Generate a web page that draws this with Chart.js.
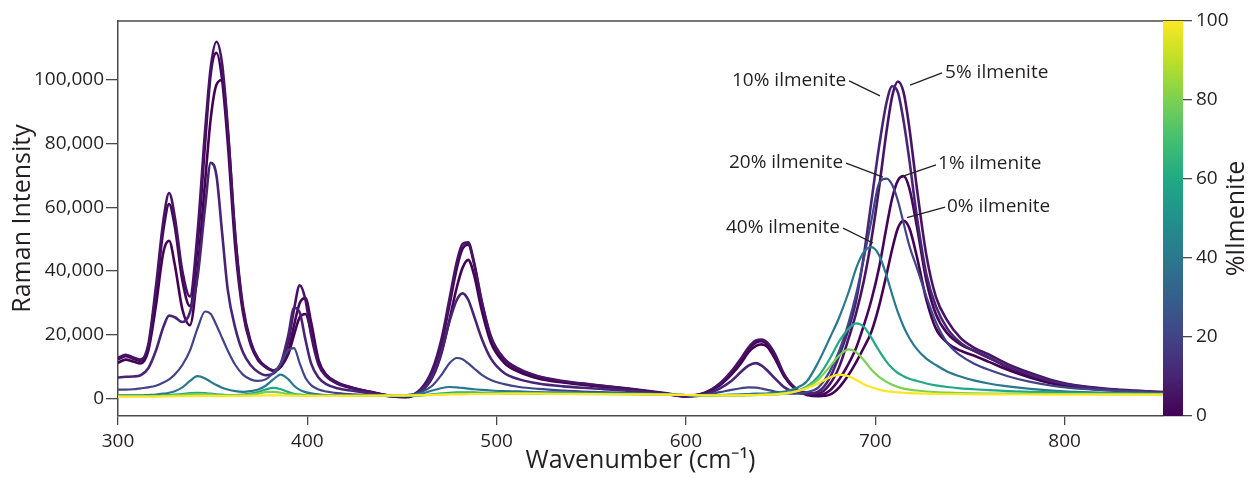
<!DOCTYPE html>
<html>
<head>
<meta charset="utf-8">
<script src="https://cdn.jsdelivr.net/npm/chart.js@4.4.1/dist/chart.umd.min.js"></script>
<style>
  html, body { margin: 0; padding: 0; background: #fff; }
</style>
</head>
<body>
<canvas id="ramanChart" width="1249" height="478"></canvas>
<script>
// Wavenumber grid (cm-1) shared by every spectrum
const wavenumbers = [
    300, 304, 308, 312, 316, 320, 324, 327, 330, 334,
    338, 342, 346, 349, 352, 355, 358, 362, 366, 370,
    374, 378, 382, 386, 390, 393, 396, 399, 402, 406,
    410, 416, 424, 434, 444, 452, 460, 466, 471, 475,
    479, 482, 485, 488, 492, 497, 504, 512, 522, 535,
    550, 570, 590, 600, 610, 618, 624, 629, 633, 637,
    640, 643, 647, 652, 658, 664, 670, 676, 681, 686,
    690, 694, 698, 702, 706, 709, 712, 715, 718, 722,
    727, 732, 738, 745, 752, 760, 770, 782, 795, 810,
    830, 852
];

// Raman intensity, one array per % ilmenite
const ilm0 = [
    11200, 12200, 11600, 11000, 15000, 29000, 46000, 49500, 42000, 28000,
    23000, 40000, 68000, 88000, 98500, 100000, 84000, 51000, 29000, 18000,
    12500, 10000, 8800, 10000, 14000, 20000, 25500, 26500, 21000, 11000,
    7000, 4600, 3200, 1900, 700, 400, 2200, 6500, 14500, 24500,
    35000, 41000, 43500, 39000, 28000, 17500, 11200, 8300, 6300, 5000,
    4000, 2900, 1400, 600, 1600, 4200, 7500, 11000, 14500, 16500,
    17000, 16200, 12500, 6800, 2800, 1100, 700, 1200, 3500, 7500,
    11500, 16000, 21000, 29000, 39000, 47000, 53500, 55800, 53500, 44500,
    31000, 22000, 17500, 15000, 13500, 11500, 9000, 6500, 4500, 3200,
    2400, 1900
];
const ilm1 = [
    12300, 13300, 12500, 11800, 16000, 33000, 53000, 61000, 54000, 37000,
    29000, 48000, 80000, 102000, 108500, 100000, 80000, 47000, 27000, 17000,
    12000, 9800, 8700, 10000, 15000, 23000, 30000, 31500, 24000, 12000,
    7500, 5000, 3400, 2000, 800, 500, 2800, 8000, 17500, 29000,
    41000, 47000, 48300, 42500, 30500, 19000, 12200, 9000, 6800, 5300,
    4300, 3000, 1500, 700, 1700, 4500, 8000, 12000, 15500, 17500,
    18000, 17000, 13000, 7200, 3000, 1400, 1000, 2500, 6000, 11000,
    16000, 23000, 31000, 41000, 54000, 63000, 68500, 69800, 66000, 54000,
    37000, 26500, 20500, 17000, 15000, 12800, 9800, 7200, 5000, 3500,
    2500, 1900
];
const ilm5 = [
    12800, 13700, 12900, 12200, 17000, 35000, 56000, 64500, 57000, 40000,
    32000, 52000, 84000, 104000, 112000, 105000, 85000, 50000, 28000, 17500,
    12500, 10000, 8800, 10500, 18000, 28000, 35500, 31000, 20000, 10500,
    7000, 4800, 3300, 2000, 900, 600, 3000, 9000, 19000, 31000,
    43000, 48500, 49000, 43000, 31000, 19500, 12500, 9300, 7000, 5500,
    4400, 3100, 1600, 800, 1800, 4800, 8500, 12500, 16000, 18200,
    18500, 17500, 14000, 7500, 3200, 1800, 1600, 4500, 10000, 19000,
    27000, 37000, 50000, 66000, 84000, 95000, 99500, 96000, 85000, 66000,
    45000, 32000, 24500, 19000, 16000, 13800, 10800, 8000, 5500, 3800,
    2700, 2000
];
const ilm10 = [
    6600, 6800, 6900, 7300, 9500, 15000, 22500, 26000, 25500, 24000,
    27000, 38000, 60000, 74000, 70000, 52000, 34000, 22000, 14500, 10500,
    8300, 7300, 7800, 11000, 20000, 28500, 27000, 18500, 11000, 6500,
    4500, 3200, 2400, 1500, 700, 600, 2500, 7000, 15000, 24000,
    31000, 33000, 31000, 26000, 19000, 12500, 8000, 6000, 4700, 3800,
    3200, 2400, 1300, 700, 1200, 3200, 5500, 8300, 10300, 11100,
    10300, 8800, 6300, 3500, 1900, 1500, 2200, 6500, 13500, 22000,
    31000, 45000, 62000, 79000, 93000, 98000, 96000, 87000, 75000, 57000,
    39000, 29000, 22000, 17500, 15000, 12800, 10000, 7500, 5200, 3700,
    2600, 2000
];
const ilm20 = [
    2800, 2800, 2900, 3200, 3500, 4000, 5000, 6000, 7500, 10500,
    15000, 22000, 27300, 26500, 23000, 19000, 15000, 10500, 7500, 6000,
    5500, 6000, 8000, 11000, 15200, 15800, 11000, 6500, 4200, 2800,
    2200, 1700, 1300, 1000, 900, 1000, 2000, 4000, 7500, 11000,
    12700, 12300, 11000, 9500, 7500, 5800, 4500, 3600, 3000, 2500,
    2100, 1700, 1300, 1100, 1200, 2000, 2700, 3200, 3500, 3400,
    3100, 2700, 2200, 1700, 1500, 2000, 3500, 8500, 15000, 24000,
    33000, 44000, 56000, 67500, 69000, 67000, 62000, 55000, 48000, 41000,
    32000, 24000, 17500, 13500, 11000, 9000, 7000, 5200, 3900, 3000,
    2300, 1800
];
const ilm40 = [
    1000, 1000, 1000, 1000, 1100, 1200, 1500, 1800, 2300, 3500,
    5500, 7000, 6300, 5200, 4200, 3400, 2800, 2300, 2100, 2300,
    2800, 4000, 6000, 7500, 6000, 4000, 2700, 2000, 1600, 1300,
    1100, 1000, 900, 800, 800, 900, 1500, 2500, 3300, 3600,
    3500, 3300, 3100, 2900, 2700, 2500, 2300, 2200, 2000, 1900,
    1800, 1600, 1300, 1100, 1000, 1100, 1200, 1300, 1400, 1500,
    1500, 1600, 1800, 2200, 3200, 5500, 11500, 19000, 25500, 33500,
    41000, 46000, 47500, 45000, 38500, 32500, 27000, 22500, 19000, 15500,
    12500, 10500, 8500, 6900, 5700, 4700, 3800, 3000, 2400, 2000,
    1700, 1500
];
const ilm60 = [
    800, 800, 800, 800, 850, 900, 1000, 1100, 1200, 1400,
    1700, 1800, 1700, 1500, 1300, 1200, 1100, 1100, 1200, 1500,
    2000, 2800, 3300, 2900, 2000, 1500, 1200, 1000, 900, 850,
    800, 800, 800, 800, 800, 850, 1000, 1300, 1600, 1800,
    1900, 1900, 1900, 1900, 1800, 1800, 1700, 1700, 1600, 1600,
    1500, 1400, 1200, 1100, 1000, 1000, 1000, 1000, 1100, 1100,
    1200, 1200, 1300, 1600, 2300, 3800, 7000, 12500, 18000, 22000,
    23600, 22500, 19000, 15000, 11500, 9500, 8000, 7000, 6200, 5500,
    4700, 4100, 3600, 3200, 2900, 2600, 2300, 2100, 1900, 1700,
    1500, 1400
];
const ilm80 = [
    700, 700, 700, 700, 700, 750, 800, 900, 1000, 1100,
    1300, 1400, 1300, 1200, 1100, 1000, 950, 950, 1000, 1200,
    1500, 2000, 2100, 1800, 1400, 1200, 1000, 900, 850, 800,
    800, 800, 800, 800, 800, 850, 950, 1100, 1300, 1400,
    1500, 1500, 1500, 1500, 1500, 1500, 1500, 1500, 1450, 1400,
    1350, 1300, 1200, 1100, 1000, 1000, 1000, 1000, 1000, 1050,
    1100, 1150, 1250, 1500, 2200, 3500, 6000, 10000, 13500, 15400,
    14500, 12000, 9000, 6800, 5200, 4300, 3600, 3100, 2800, 2500,
    2200, 2000, 1850, 1700, 1600, 1550, 1500, 1450, 1400, 1400,
    1350, 1300
];
const ilm100 = [
    600, 600, 600, 600, 600, 600, 650, 650, 700, 700,
    750, 800, 800, 800, 750, 750, 750, 800, 800, 850,
    900, 1000, 1000, 950, 900, 850, 850, 800, 800, 800,
    800, 800, 850, 900, 950, 1000, 1050, 1100, 1200, 1250,
    1300, 1300, 1350, 1400, 1400, 1450, 1500, 1500, 1500, 1450,
    1400, 1300, 1200, 1100, 1000, 1000, 1000, 1000, 1050, 1100,
    1150, 1200, 1300, 1600, 2200, 3200, 4800, 6600, 7500, 7000,
    5800, 4500, 3500, 2800, 2300, 2100, 1900, 1800, 1700, 1600,
    1500, 1450, 1400, 1350, 1300, 1300, 1250, 1250, 1200, 1200,
    1200, 1200
];

// draw order: first dataset ends up on top
const seriesPercent = [100, 80, 60, 40, 20, 10, 5, 1, 0];
const seriesValues = [ilm100, ilm80, ilm60, ilm40, ilm20, ilm10, ilm5, ilm1, ilm0];
const seriesColors = ['#fde725', '#7ad151', '#22a884', '#2a788e', '#414487', '#482475', '#471365', '#45055a', '#440154'];

const xTicks = [300, 400, 500, 600, 700, 800];
const yTicks = [0, 20000, 40000, 60000, 80000, 100000];
const barTicks = [0, 20, 40, 60, 80, 100];
const viridisStops = ['#440154', '#482475', '#414487', '#355f8d', '#2a788e', '#21918c', '#22a884', '#44bf70', '#7ad151', '#bddf26', '#fde725'];

// labels with leader lines, in data units: text anchor, line from -> to
const callouts = [
    { text: '10% ilmenite', at: [684.6, 99700], align: 'right', line: [686.2, 99700, 702.5, 95000] },
    { text: '5% ilmenite', at: [736.9, 102200], align: 'left', line: [718.4, 98400, 735.3, 102200] },
    { text: '20% ilmenite', at: [683.0, 74200], align: 'right', line: [684.6, 73900, 704.1, 69500] },
    { text: '1% ilmenite', at: [733.2, 73600], align: 'left', line: [714.7, 69800, 732.1, 73300] },
    { text: '40% ilmenite', at: [681.4, 53800], align: 'right', line: [683.0, 53500, 698.8, 48800] },
    { text: '0% ilmenite', at: [737.9, 60100], align: 'left', line: [716.8, 56800, 736.9, 60100] }
];

const textColor = '#231f20';
const axisColor = '#4a4a4a';

Chart.defaults.font.family = '"Open Sans", sans-serif';
Chart.defaults.color = textColor;

const extras = {
    id: 'extras',
    afterDatasetsDraw(chart) {
        const { ctx, scales: { x, y } } = chart;
        ctx.save();
        ctx.strokeStyle = textColor;
        ctx.lineWidth = 1.3;
        ctx.fillStyle = textColor;
        ctx.font = '19px "Open Sans"';
        ctx.textBaseline = 'middle';
        callouts.forEach(function (c) {
            ctx.beginPath();
            ctx.moveTo(x.getPixelForValue(c.line[0]), y.getPixelForValue(c.line[1]));
            ctx.lineTo(x.getPixelForValue(c.line[2]), y.getPixelForValue(c.line[3]));
            ctx.stroke();
            ctx.textAlign = c.align;
            ctx.fillText(c.text, x.getPixelForValue(c.at[0]), y.getPixelForValue(c.at[1]));
        });
        ctx.restore();
    },
    afterDraw(chart) {
        const { ctx, chartArea, scales: { y2 } } = chart;
        ctx.save();
        // colour bar
        const grad = ctx.createLinearGradient(0, y2.bottom, 0, y2.top);
        viridisStops.forEach(function (c, i) {
            grad.addColorStop(i / (viridisStops.length - 1), c);
        });
        ctx.fillStyle = grad;
        ctx.fillRect(chartArea.right, y2.top, 20, y2.bottom - y2.top);

        // top frame line
        ctx.strokeStyle = axisColor;
        ctx.lineWidth = 1.5;
        ctx.beginPath();
        ctx.moveTo(chartArea.left, chartArea.top);
        ctx.lineTo(chartArea.right, chartArea.top);
        ctx.stroke();

        // colour bar title, reads bottom to top
        ctx.fillStyle = textColor;
        ctx.font = '25px "Open Sans"';
        ctx.textAlign = 'center';
        ctx.textBaseline = 'middle';
        ctx.translate(1237, (y2.top + y2.bottom) / 2);
        ctx.rotate(-Math.PI / 2);
        ctx.fillText('%Ilmenite', 0, 0);
        ctx.restore();
    }
};

const config = {
    type: 'line',
    data: {
        datasets: seriesPercent.map(function (p, i) {
            return {
                label: p + '% ilmenite',
                data: wavenumbers.map(function (w, j) {
                    return { x: w, y: seriesValues[i][j] };
                }),
                borderColor: seriesColors[i],
                borderWidth: p <= 10 ? 2.6 : 2.2,
                pointRadius: 0,
                cubicInterpolationMode: 'monotone',
                fill: false
            };
        })
    },
    options: {
        responsive: false,
        animation: false,
        layout: { padding: { top: 21, left: 0, right: 0, bottom: 0 } },
        plugins: {
            legend: { display: false },
            tooltip: { enabled: false }
        },
        scales: {
            x: {
                type: 'linear',
                min: 300,
                max: 852,
                afterBuildTicks: function (s) { s.ticks = xTicks.map(v => ({ value: v })); },
                afterFit: function (s) { s.height = 62; },
                ticks: { font: { size: 19 }, padding: 5, color: textColor, maxRotation: 0 },
                grid: { drawOnChartArea: false, tickLength: 9, color: axisColor, lineWidth: 1.3 },
                border: { color: axisColor, width: 1.5 },
                title: {
                    display: true,
                    text: 'Wavenumber (cm\u207B\u00B9)',
                    font: { size: 25 },
                    color: textColor,
                    padding: { top: 0, bottom: 2 }
                }
            },
            y: {
                min: -5500,
                max: 118500,
                afterBuildTicks: function (s) { s.ticks = yTicks.map(v => ({ value: v })); },
                afterFit: function (s) { s.width = 118; },
                ticks: {
                    font: { size: 19 },
                    padding: 2,
                    color: textColor,
                    callback: function (v) { return v.toLocaleString('en-US'); }
                },
                grid: { drawOnChartArea: false, tickLength: 12, color: axisColor, lineWidth: 1.3 },
                border: { color: axisColor, width: 1.5 },
                title: {
                    display: true,
                    text: 'Raman Intensity',
                    font: { size: 25 },
                    color: textColor,
                    padding: { top: 8, bottom: 0 }
                }
            },
            y2: {
                position: 'right',
                min: 0,
                max: 100,
                afterBuildTicks: function (s) { s.ticks = barTicks.map(v => ({ value: v })); },
                afterFit: function (s) { s.width = 86; },
                ticks: { font: { size: 19 }, padding: 4, color: textColor },
                grid: { drawOnChartArea: false, tickLength: 29, color: axisColor, lineWidth: 1.3 },
                border: { display: false }
            }
        }
    },
    plugins: [extras]
};

const ramanChart = new Chart(document.getElementById('ramanChart'), config);
</script>
</body>
</html>
